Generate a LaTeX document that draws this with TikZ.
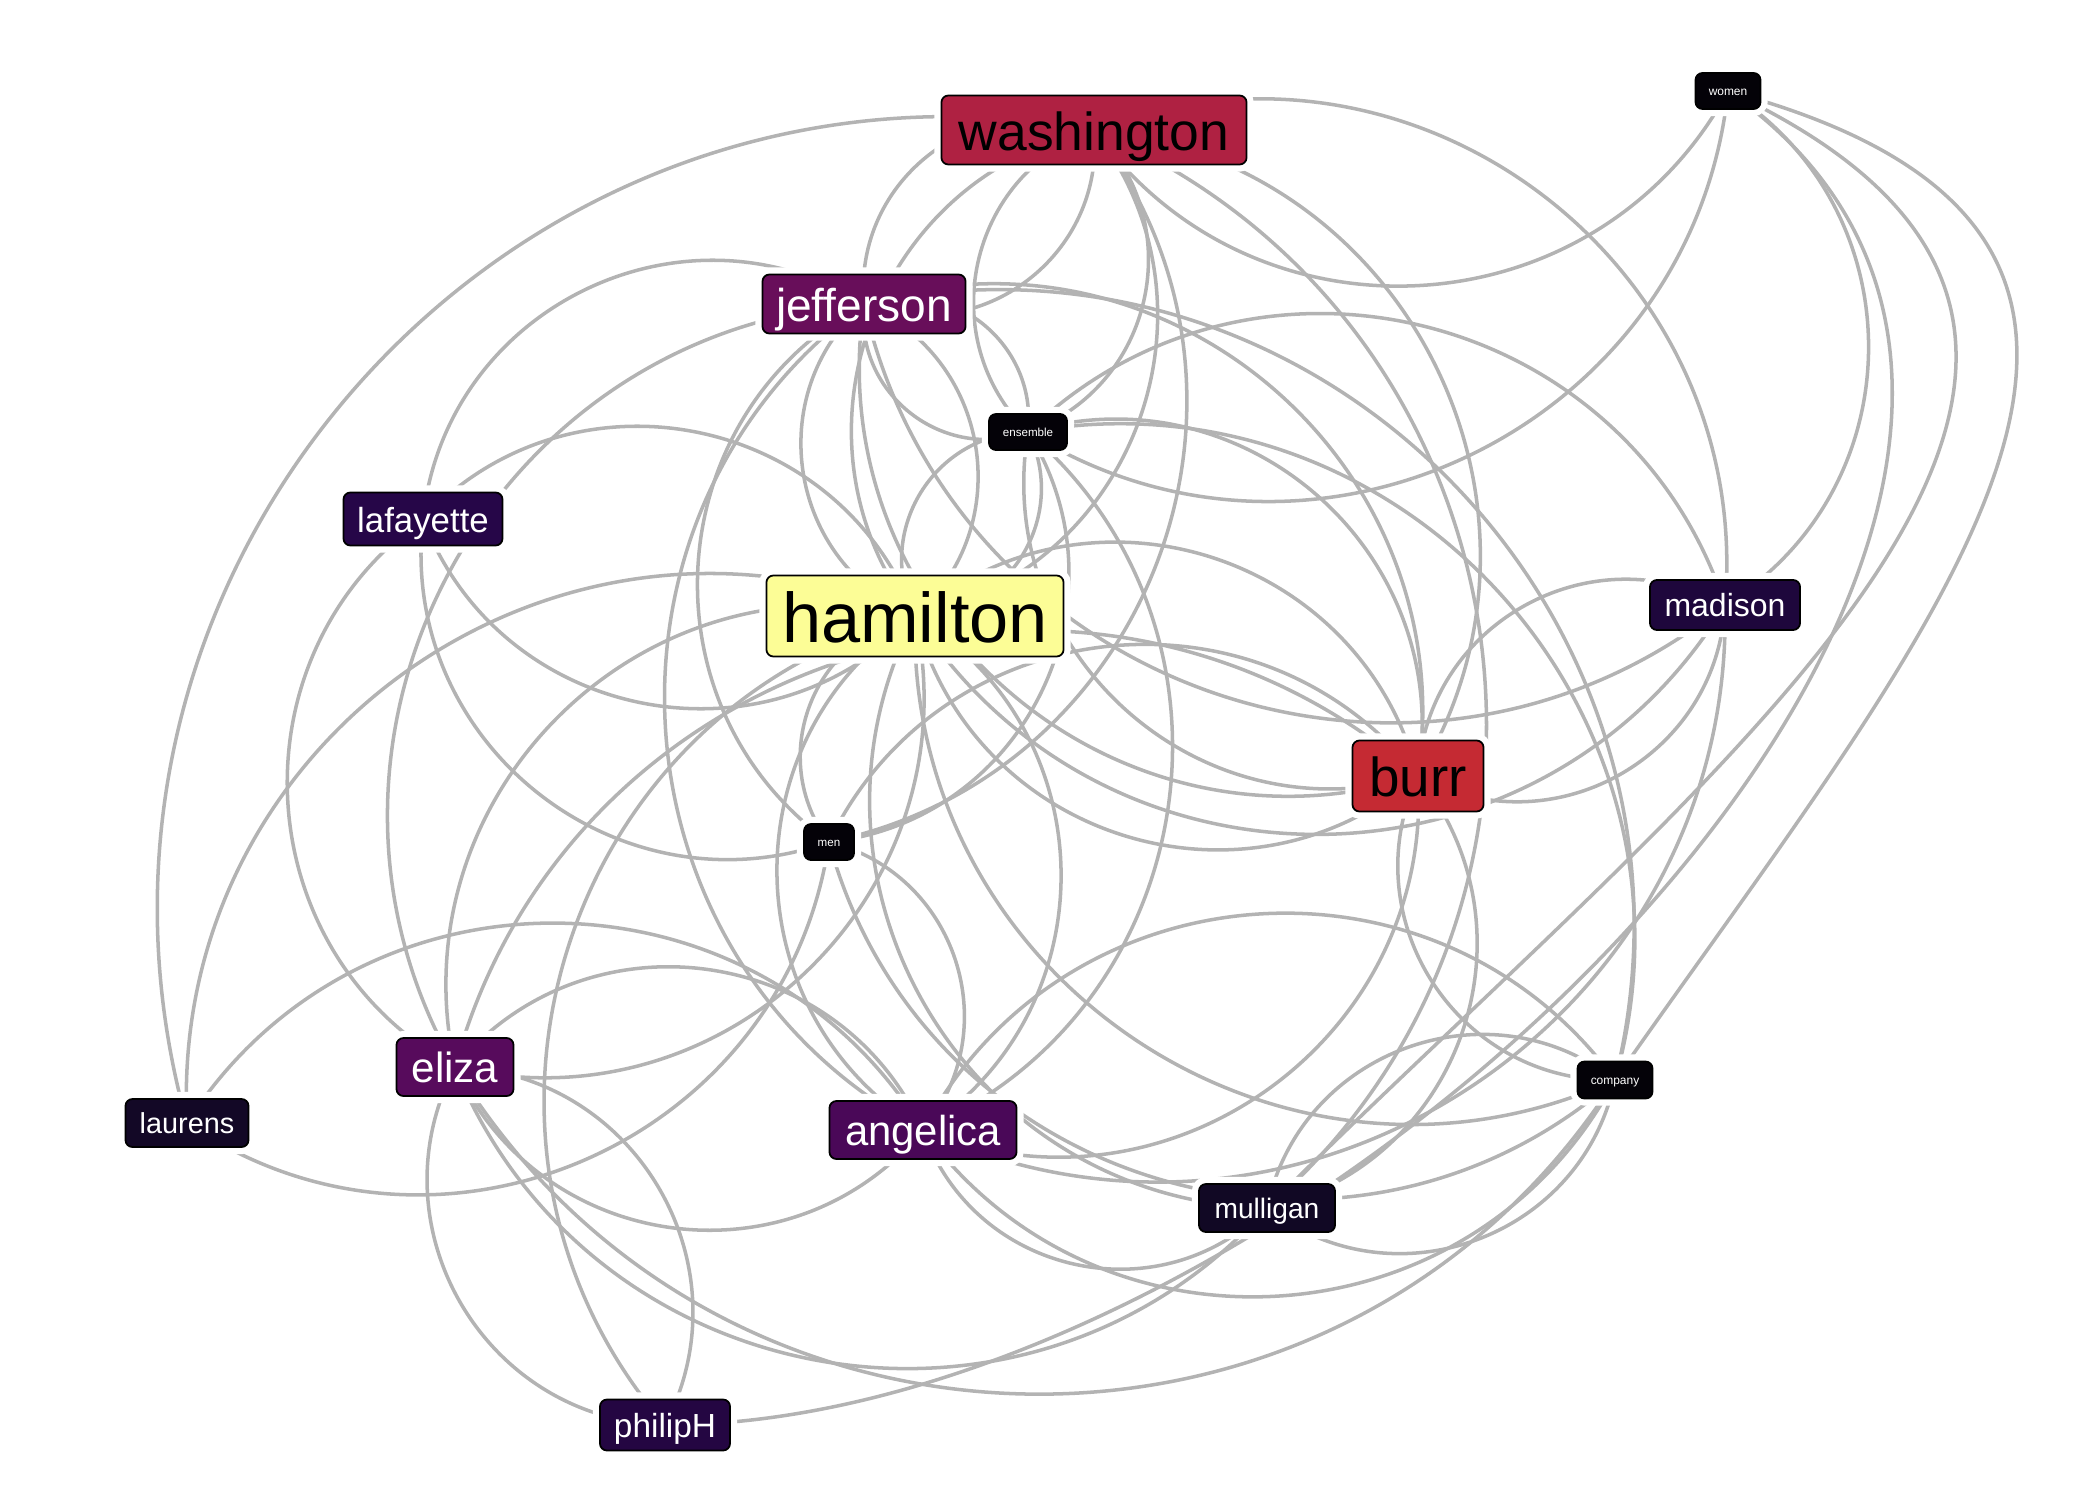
\documentclass[tikz,border=0pt]{standalone}
\usepackage{fontspec}
\setmainfont{Liberation Sans}
\usetikzlibrary{backgrounds}

\definecolor{edgegray}{RGB}{179,179,179}
\definecolor{hamfill}{RGB}{252,253,150}
\definecolor{wasfill}{RGB}{175,33,66}
\definecolor{burfill}{RGB}{197,42,51}
\definecolor{jeffill}{RGB}{104,14,90}
\definecolor{elifill}{RGB}{87,11,92}
\definecolor{angfill}{RGB}{74,8,88}
\definecolor{laffill}{RGB}{38,6,72}
\definecolor{madfill}{RGB}{30,7,60}
\definecolor{phifill}{RGB}{36,6,66}
\definecolor{laufill}{RGB}{19,8,38}
\definecolor{mulfill}{RGB}{17,8,36}
\definecolor{grpfill}{RGB}{4,2,8}

\tikzset{
  lbl/.style={rounded corners=2pt, draw=black, line width=0.5pt, inner sep=0pt,
    text depth=0pt, preaction={draw=white, line width=4pt}},
  edge/.style={draw=edgegray, line width=1pt},
  hop/.style={bend left=58, looseness=1.11},
}

\begin{document}
\begin{tikzpicture}[x=0.01cm, y=-0.01cm]
    \useasboundingbox (0,0) rectangle (2100,1500);

    % Characters
    \node[lbl, fill=hamfill, text=black, minimum width=2.97cm, minimum height=0.81cm, text height=15pt, font=\fontsize{20}{20}\selectfont] (ham) at (915,616) {hamilton};
    \node[lbl, fill=wasfill, text=black, minimum width=3.05cm, minimum height=0.69cm, text height=11.4pt, font=\fontsize{15.2}{15.2}\selectfont] (was) at (1094,130) {washington};
    \node[lbl, fill=burfill, text=black, minimum width=1.31cm, minimum height=0.71cm, text height=11.7pt, font=\fontsize{15.6}{15.6}\selectfont] (bur) at (1418,776) {burr};
    \node[lbl, fill=jeffill, text=white, minimum width=2.03cm, minimum height=0.59cm, text height=9.8pt, font=\fontsize{13.1}{13.1}\selectfont] (jef) at (864,304) {jefferson};
    \node[lbl, fill=elifill, text=white, minimum width=1.17cm, minimum height=0.58cm, text height=9pt, font=\fontsize{12}{12}\selectfont] (eli) at (455,1067) {eliza};
    \node[lbl, fill=angfill, text=white, minimum width=1.87cm, minimum height=0.58cm, text height=8.9pt, font=\fontsize{11.9}{11.9}\selectfont] (ang) at (923,1130) {angelica};
    \node[lbl, fill=laffill, text=white, minimum width=1.59cm, minimum height=0.53cm, text height=7.4pt, font=\fontsize{9.9}{9.9}\selectfont] (laf) at (423,519) {lafayette};
    \node[lbl, fill=madfill, text=white, minimum width=1.50cm, minimum height=0.50cm, text height=6.8pt, font=\fontsize{9.1}{9.1}\selectfont] (mad) at (1725,605) {madison};
    \node[lbl, fill=phifill, text=white, minimum width=1.30cm, minimum height=0.51cm, text height=7.1pt, font=\fontsize{9.5}{9.5}\selectfont] (phi) at (665,1425) {philipH};
    \node[lbl, fill=laufill, text=white, minimum width=1.23cm, minimum height=0.48cm, text height=6.1pt, font=\fontsize{8.2}{8.2}\selectfont] (lau) at (187,1123) {laurens};
    \node[lbl, fill=mulfill, text=white, minimum width=1.36cm, minimum height=0.48cm, text height=6pt, font=\fontsize{8}{8}\selectfont] (mul) at (1267,1208) {mulligan};

    % Groups
    \node[lbl, fill=grpfill, text=white, minimum width=0.65cm, minimum height=0.36cm, text height=2.5pt, font=\fontsize{3.4}{3.4}\selectfont] (wom) at (1728,91) {women};
    \node[lbl, fill=grpfill, text=white, minimum width=0.78cm, minimum height=0.36cm, text height=2.5pt, font=\fontsize{3.3}{3.3}\selectfont] (ens) at (1028,432) {ensemble};
    \node[lbl, fill=grpfill, text=white, minimum width=0.50cm, minimum height=0.36cm, text height=2.5pt, font=\fontsize{3.3}{3.3}\selectfont] (men) at (829,842) {men};
    \node[lbl, fill=grpfill, text=white, minimum width=0.75cm, minimum height=0.37cm, text height=2.5pt, font=\fontsize{3.4}{3.4}\selectfont] (com) at (1615,1080) {company};

    \begin{scope}[on background layer]
    % women
    \draw[edge] (wom.center) to[hop] (was.center);
    \draw[edge] (wom.center) to[hop] (ens.center);
    \draw[edge] (wom.center) to[hop] (mad.center);
    \draw[edge] (wom.center) to[out=-15, in=55, looseness=1.45] (com.center);
    \draw[edge] (wom.center) to[out=-35, in=0, looseness=1] (phi.center);
    \draw[edge] (wom.center) to[out=-25, in=45, looseness=1.3] (mul.center);

    % washington
    \draw[edge] (was.center) to[hop] (ens.center);
    \draw[edge] (ens.center) to[hop] (was.center);
    \draw[edge] (lau.center) to[hop] (was.center);
    \draw[edge] (was.center) to[hop] (mad.center);
    \draw[edge] (was.center) to[hop] (ham.center);
    \draw[edge] (ham.center) to[hop] (was.center);
    \draw[edge] (jef.center) to[hop] (was.center);
    \draw[edge] (was.center) to[hop] (jef.center);
    \draw[edge] (was.center) to[hop] (bur.center);
    \draw[edge] (was.center) to[hop] (men.center);
    \draw[edge] (was.center) to[hop] (mul.center);

    % laurens
    \draw[edge] (lau.center) to[hop] (ham.center);
    \draw[edge] (lau.center) to[hop] (ang.center);
    \draw[edge] (men.center) to[hop] (lau.center);

    % madison
    \draw[edge] (ens.center) to[hop] (mad.center);
    \draw[edge] (mad.center) to[hop] (jef.center);
    \draw[edge] (mad.center) to[hop] (bur.center);
    \draw[edge] (bur.center) to[hop] (mad.center);
    \draw[edge] (mad.center) to[hop] (ham.center);
    \draw[edge] (mad.center) to[hop] (ang.center);

    % company
    \draw[edge] (com.center) to[hop] (eli.center);
    \draw[edge] (com.center) to[hop] (mul.center);
    \draw[edge] (mul.center) to[hop] (com.center);
    \draw[edge] (com.center) to[hop] (ang.center);
    \draw[edge] (ang.center) to[hop] (com.center);
    \draw[edge] (com.center) to[hop] (bur.center);
    \draw[edge] (com.center) to[hop] (ham.center);
    \draw[edge] (ens.center) to[hop] (com.center);
    \draw[edge] (jef.center) to[hop] (com.center);
    \draw[edge] (com.center) to[hop] (men.center);

    % mulligan
    \draw[edge] (bur.center) to[hop] (mul.center);
    \draw[edge] (mul.center) to[hop] (ham.center);
    \draw[edge] (mul.center) to[hop] (ang.center);
    \draw[edge] (mul.center) to[hop] (eli.center);

    % philipH
    \draw[edge] (eli.center) to[hop] (phi.center);
    \draw[edge] (phi.center) to[hop] (eli.center);
    \draw[edge] (phi.center) to[hop] (ham.center);

    % lafayette
    \draw[edge] (laf.center) to[hop] (jef.center);
    \draw[edge] (laf.center) to[hop] (ham.center);
    \draw[edge] (ham.center) to[hop] (laf.center);
    \draw[edge] (eli.center) to[hop] (laf.center);
    \draw[edge] (men.center) to[hop] (laf.center);

    % men
    \draw[edge] (men.center) to[hop] (ang.center);
    \draw[edge] (men.center) to[hop] (jef.center);
    \draw[edge] (men.center) to[hop] (ham.center);
    \draw[edge] (men.center) to[hop] (bur.center);
    \draw[edge] (ens.center) to[hop] (men.center);

    % hamilton
    \draw[edge] (ham.center) to[hop] (bur.center);
    \draw[edge] (bur.center) to[hop] (ham.center);
    \draw[edge] (ham.center) to[hop] (jef.center);
    \draw[edge] (jef.center) to[hop] (ham.center);
    \draw[edge] (ham.center) to[hop] (ens.center);
    \draw[edge] (ens.center) to[hop] (ham.center);
    \draw[edge] (ham.center) to[hop] (ang.center);
    \draw[edge] (ang.center) to[hop] (ham.center);
    \draw[edge] (ham.center) to[hop] (eli.center);
    \draw[edge] (eli.center) to[hop] (ham.center);

    % jefferson, ensemble, burr
    \draw[edge] (jef.center) to[hop] (ens.center);
    \draw[edge] (ens.center) to[hop] (jef.center);
    \draw[edge] (jef.center) to[hop] (bur.center);
    \draw[edge] (bur.center) to[hop] (jef.center);
    \draw[edge] (ens.center) to[hop] (bur.center);
    \draw[edge] (bur.center) to[hop] (ens.center);
    \draw[edge] (ang.center) to[hop] (jef.center);
    \draw[edge] (eli.center) to[hop] (jef.center);
    \draw[edge] (ens.center) to[hop] (ang.center);

    % eliza, angelica
    \draw[edge] (eli.center) to[hop] (ang.center);
    \draw[edge] (ang.center) to[hop] (eli.center);
    \draw[edge] (eli.center) to[hop] (bur.center);
    \draw[edge] (bur.center) to[hop] (ang.center);
    \end{scope}
\end{tikzpicture}
\end{document}
